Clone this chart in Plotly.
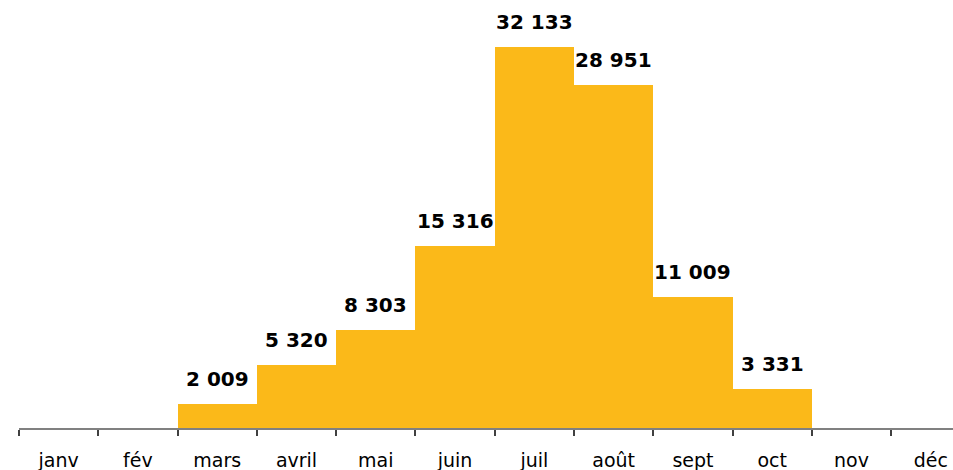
import plotly.graph_objects as go

months = ["janv", "fév", "mars", "avril", "mai", "juin", "juil", "août", "sept", "oct", "nov", "déc"]
values = [0, 0, 2009, 5320, 8303, 15316, 32133, 28951, 11009, 3331, 0, 0]
labels = ["", "", "2 009", "5 320", "8 303", "15 316", "32 133", "28 951", "11 009", "3 331", "", ""]

fig = go.Figure()
fig.add_trace(go.Bar(
    x=months, y=values,
    marker=dict(color="#FBB919", line=dict(width=0)),
    hoverinfo="skip",
))

for m, v, t in zip(months, values, labels):
    if t:
        fig.add_annotation(x=m, y=v, text="<b>%s</b>" % t, showarrow=False,
                           yanchor="bottom", yshift=11,
                           font=dict(family="DejaVu Sans", size=20, color="#000000"))

fig.update_layout(
    width=953, height=470,
    margin=dict(l=19, r=0, t=0, b=42),
    paper_bgcolor="white", plot_bgcolor="white",
    bargap=0, showlegend=False,
    xaxis=dict(
        range=[-0.5, 11.28],
        showline=True, linecolor="#808080", linewidth=1.5,
        ticks="outside", tickson="boundaries", ticklen=6, tickcolor="#404040", tickwidth=1.5,
        tickfont=dict(family="DejaVu Sans", size=19, color="#000000"),
        ticklabelstandoff=14,
        showgrid=False, zeroline=False,
    ),
    yaxis=dict(
        range=[0, 36097], visible=False, showgrid=False, zeroline=False,
    ),
)

fig.write_html("out.html", config={"displayModeBar": False},
               post_script="document.body.style.margin='0';")
